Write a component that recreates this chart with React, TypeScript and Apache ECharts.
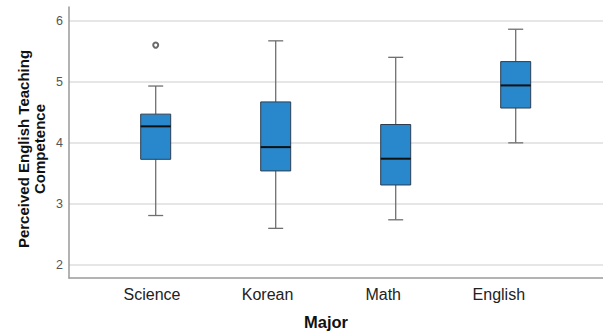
import React, { useEffect, useRef } from "react";
import * as echarts from "echarts";

const categories = ["Science", "Korean", "Math", "English"];
const mins = [2.81, 2.6, 2.74, 4.0];
const q1s = [3.73, 3.54, 3.31, 4.57];
const medians = [4.27, 3.93, 3.74, 4.94];
const q3s = [4.47, 4.67, 4.3, 5.33];
const maxs = [4.93, 5.67, 5.4, 5.86];
const outliers: [number, number][] = [[0, 5.6]];
const yMin = 1.787;
const yMax = 6.224;
const yTitle = "Perceived English Teaching\nCompetence";
const xTitle = "Major";

const FONT = "'Liberation Sans', Arial, sans-serif";

export default function App() {
  const ref = useRef<HTMLDivElement>(null);
  useEffect(() => {
    document.body.style.margin = "0";
    const chart = echarts.init(ref.current!, null, { renderer: "svg" });
    const boxData = categories.map((_, i) => [i, mins[i], q1s[i], medians[i], q3s[i], maxs[i]]);
    const hiddenY = (gi: number) => ({
      type: "value",
      gridIndex: gi,
      min: yMin,
      max: yMax,
      show: false,
    });
    chart.setOption({
      animation: false,
      grid: [
        { left: 69, right: 0, top: 7, bottom: 57 },
        { left: 95.7, width: 480, top: 7, bottom: 57 },
        { left: 94.2, width: 462.4, top: 7, bottom: 57 },
      ],
      xAxis: [
        {
          type: "category",
          gridIndex: 0,
          data: categories,
          axisLine: { show: true, lineStyle: { color: "#9a9a9a", width: 1.5 } },
          axisTick: { show: false },
          axisLabel: { show: false },
          splitLine: { show: false },
        },
        {
          type: "category",
          gridIndex: 1,
          data: categories,
          axisLine: { show: false },
          axisTick: { show: false },
          axisLabel: { show: false },
          splitLine: { show: false },
        },
        {
          type: "category",
          gridIndex: 2,
          data: categories,
          axisLine: { show: false },
          axisTick: { show: false },
          axisLabel: {
            show: true,
            fontFamily: FONT,
            fontSize: 16,
            color: "#222",
            margin: 8,
          },
          splitLine: { show: false },
        },
      ],
      yAxis: [
        {
          type: "value",
          gridIndex: 0,
          min: yMin,
          max: yMax,
          axisLine: { show: true, lineStyle: { color: "#9a9a9a", width: 1.5 } },
          axisTick: { show: false },
          axisLabel: {
            fontFamily: FONT,
            fontSize: 12.5,
            color: "#555",
            margin: 6,
            showMinLabel: false,
            showMaxLabel: false,
          },
          splitLine: {
            show: true,
            showMinLine: false,
            showMaxLine: false,
            lineStyle: { color: "#dedede", width: 1.5 },
          },
        },
        hiddenY(1),
        hiddenY(2),
      ],
      series: [
        {
          type: "custom",
          xAxisIndex: 1,
          yAxisIndex: 1,
          data: boxData,
          renderItem: (params: any, api: any) => {
            const i = api.value(0);
            const lo = api.coord([i, api.value(1)]);
            const q1 = api.coord([i, api.value(2)]);
            const md = api.coord([i, api.value(3)]);
            const q3 = api.coord([i, api.value(4)]);
            const hi = api.coord([i, api.value(5)]);
            const band = api.size([1, 0])[0];
            const bw = band * 0.25;
            const x = lo[0];
            const wStyle = { stroke: "#707070", lineWidth: 1.3 };
            return {
              type: "group",
              children: [
                { type: "line", shape: { x1: x, y1: lo[1], x2: x, y2: q1[1] }, style: wStyle },
                { type: "line", shape: { x1: x, y1: q3[1], x2: x, y2: hi[1] }, style: wStyle },
                { type: "line", shape: { x1: x - bw / 4, y1: lo[1], x2: x + bw / 4, y2: lo[1] }, style: wStyle },
                { type: "line", shape: { x1: x - bw / 4, y1: hi[1], x2: x + bw / 4, y2: hi[1] }, style: wStyle },
                {
                  type: "rect",
                  shape: { x: x - bw / 2, y: q3[1], width: bw, height: q1[1] - q3[1] },
                  style: { fill: "#2987cc", stroke: "#2c3e50", lineWidth: 1 },
                },
                {
                  type: "line",
                  shape: { x1: x - bw / 2, y1: md[1], x2: x + bw / 2, y2: md[1] },
                  style: { stroke: "#111", lineWidth: 2 },
                },
              ],
            };
          },
        },
        {
          type: "scatter",
          xAxisIndex: 1,
          yAxisIndex: 1,
          data: outliers,
          symbol: "emptyCircle",
          symbolSize: 5,
          z: 5,
          itemStyle: { color: "#444", borderColor: "#444", borderWidth: 1 },
        },
      ],
      graphic: [
        {
          type: "text",
          x: 31,
          y: 149,
          rotation: Math.PI / 2,
          style: {
            text: yTitle,
            fontFamily: FONT,
            fontSize: 15,
            fontWeight: "bold",
            fill: "#111",
            textAlign: "center",
            textVerticalAlign: "middle",
            lineHeight: 16,
          },
        },
        {
          type: "text",
          x: 326,
          y: 322,
          style: {
            text: xTitle,
            fontFamily: FONT,
            fontSize: 16.5,
            fontWeight: "bold",
            fill: "#111",
            textAlign: "center",
            textVerticalAlign: "middle",
          },
        },
      ],
    });
    return () => chart.dispose();
  }, []);
  return <div ref={ref} style={{ width: 603, height: 335 }} />;
}
